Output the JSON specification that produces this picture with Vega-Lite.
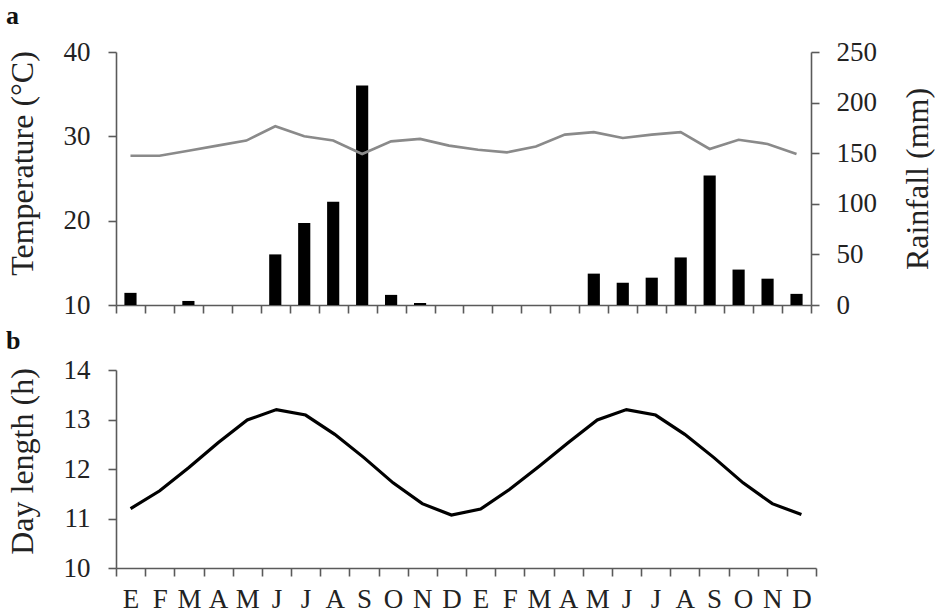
{
  "$schema": "https://vega.github.io/schema/vega-lite/v6.json",
  "background": "white",
  "padding": {"left": 6, "top": 3, "right": 2, "bottom": 2},
  "config": {
    "font": "Liberation Serif",
    "view": {"stroke": null},
    "title": {"font": "Liberation Serif", "fontSize": 26, "fontWeight": "bold", "color": "#111", "anchor": "start", "frame": "bounds"},
    "axis": {
      "grid": false,
      "domainColor": "#5a5a5a",
      "domainWidth": 1.6,
      "tickColor": "#5a5a5a",
      "tickWidth": 1.6,
      "tickSize": 8,
      "labelFont": "Liberation Serif",
      "labelFontSize": 27,
      "labelColor": "#222",
      "labelPadding": 18,
      "titleFont": "Liberation Serif",
      "titleFontSize": 32,
      "titleFontWeight": "normal",
      "titleColor": "#222"
    }
  },
  "datasets": {
    "clima": [
      {"mes": "E-1", "temp": 27.7, "lluvia": 12},
      {"mes": "F-1", "temp": 27.7, "lluvia": 0},
      {"mes": "M-1", "temp": 28.3, "lluvia": 4},
      {"mes": "A-1", "temp": 28.9, "lluvia": 0},
      {"mes": "M-2", "temp": 29.5, "lluvia": 0},
      {"mes": "J-1", "temp": 31.2, "lluvia": 50},
      {"mes": "J-2", "temp": 30.0, "lluvia": 81},
      {"mes": "A-2", "temp": 29.5, "lluvia": 102},
      {"mes": "S-1", "temp": 27.9, "lluvia": 217},
      {"mes": "O-1", "temp": 29.4, "lluvia": 10},
      {"mes": "N-1", "temp": 29.7, "lluvia": 2},
      {"mes": "D-1", "temp": 28.9, "lluvia": 0},
      {"mes": "E-2", "temp": 28.4, "lluvia": 0},
      {"mes": "F-2", "temp": 28.1, "lluvia": 0},
      {"mes": "M-3", "temp": 28.8, "lluvia": 0},
      {"mes": "A-3", "temp": 30.2, "lluvia": 0},
      {"mes": "M-4", "temp": 30.5, "lluvia": 31},
      {"mes": "J-3", "temp": 29.8, "lluvia": 22},
      {"mes": "J-4", "temp": 30.2, "lluvia": 27},
      {"mes": "A-4", "temp": 30.5, "lluvia": 47},
      {"mes": "S-2", "temp": 28.5, "lluvia": 128},
      {"mes": "O-2", "temp": 29.6, "lluvia": 35},
      {"mes": "N-2", "temp": 29.1, "lluvia": 26},
      {"mes": "D-2", "temp": 27.9, "lluvia": 11}
    ],
    "fotoperiodo": [
      {"mes": "E-1", "horas": 11.2},
      {"mes": "F-1", "horas": 11.56},
      {"mes": "M-1", "horas": 12.03},
      {"mes": "A-1", "horas": 12.53},
      {"mes": "M-2", "horas": 12.99},
      {"mes": "J-1", "horas": 13.2},
      {"mes": "J-2", "horas": 13.09},
      {"mes": "A-2", "horas": 12.7},
      {"mes": "S-1", "horas": 12.23},
      {"mes": "O-1", "horas": 11.72},
      {"mes": "N-1", "horas": 11.3},
      {"mes": "D-1", "horas": 11.07},
      {"mes": "E-2", "horas": 11.19},
      {"mes": "F-2", "horas": 11.59},
      {"mes": "M-3", "horas": 12.05},
      {"mes": "A-3", "horas": 12.53},
      {"mes": "M-4", "horas": 12.99},
      {"mes": "J-3", "horas": 13.2},
      {"mes": "J-4", "horas": 13.09},
      {"mes": "A-4", "horas": 12.7},
      {"mes": "S-2", "horas": 12.23},
      {"mes": "O-2", "horas": 11.72},
      {"mes": "N-2", "horas": 11.3},
      {"mes": "D-2", "horas": 11.08}
    ]
  },
  "spacing": 10,
  "vconcat": [
    {
      "title": {"text": "a", "offset": 9},
      "width": 695,
      "height": 253,
      "data": {"name": "clima"},
      "encoding": {
        "x": {
          "field": "mes",
          "type": "nominal",
          "sort": null,
          "scale": {"type": "band", "paddingInner": 0, "paddingOuter": 0},
          "axis": {"labels": false, "title": null, "tickBand": "extent"}
        }
      },
      "layer": [
        {
          "mark": {"type": "bar", "color": "black", "width": {"band": 0.42}},
          "encoding": {
            "y": {
              "field": "lluvia",
              "type": "quantitative",
              "scale": {"domain": [0, 250], "nice": false},
              "axis": {"orient": "right", "title": "Rainfall (mm)", "values": [0, 50, 100, 150, 200, 250], "titleAngle": 270, "titleBaseline": "top", "titlePadding": 26, "labelPadding": 17}
            }
          }
        },
        {
          "mark": {"type": "line", "color": "#8a8a8a", "strokeWidth": 2.6},
          "encoding": {
            "y": {
              "field": "temp",
              "type": "quantitative",
              "scale": {"domain": [10, 40], "nice": false, "zero": false},
              "axis": {"orient": "left", "title": "Temperature (°C)", "values": [10, 20, 30, 40], "titlePadding": 24, "titleY": 111}
            }
          }
        }
      ],
      "resolve": {"scale": {"y": "independent"}, "axis": {"y": "independent"}}
    },
    {
      "title": {"text": "b", "offset": 2},
      "width": 700,
      "height": 198,
      "data": {"name": "fotoperiodo"},
      "mark": {"type": "line", "color": "black", "strokeWidth": 3.2},
      "encoding": {
        "x": {
          "field": "mes",
          "type": "nominal",
          "sort": null,
          "scale": {"type": "band", "paddingInner": 0, "paddingOuter": 0},
          "axis": {"title": null, "tickBand": "extent", "labelAngle": 0, "labelExpr": "datum.value ? split(datum.value, '-')[0] : ''", "labelPadding": 10}
        },
        "y": {
          "field": "horas",
          "type": "quantitative",
          "scale": {"domain": [10, 14], "nice": false, "zero": false},
          "axis": {"title": "Day length (h)", "values": [10, 11, 12, 13, 14], "titlePadding": 24, "titleY": 91}
        }
      }
    }
  ]
}
